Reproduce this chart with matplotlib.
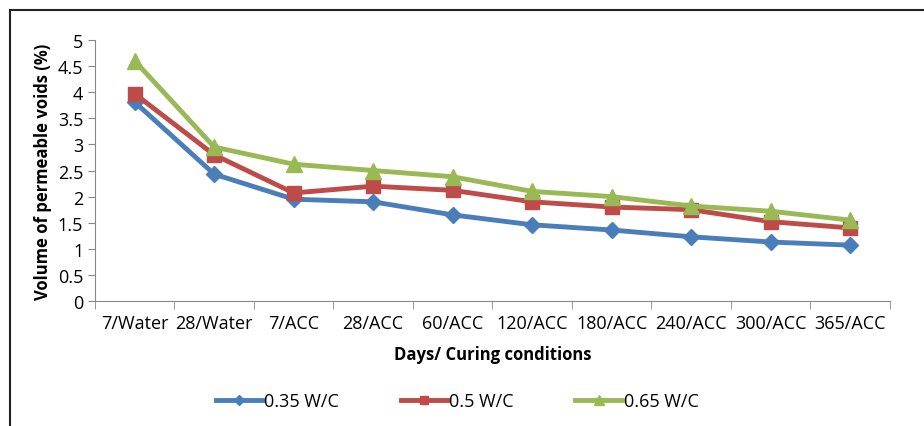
import numpy as np
import matplotlib
matplotlib.use("Agg")
import matplotlib.pyplot as plt
from matplotlib.lines import Line2D

plt.rcParams["font.family"] = ["Open Sans", "DejaVu Sans"]

categories = ["7/Water", "28/Water", "7/ACC", "28/ACC", "60/ACC", "120/ACC",
              "180/ACC", "240/ACC", "300/ACC", "365/ACC"]
wc_035 = [3.81, 2.43, 1.95, 1.90, 1.65, 1.46, 1.36, 1.23, 1.13, 1.07]
wc_050 = [3.97, 2.80, 2.07, 2.20, 2.12, 1.90, 1.80, 1.75, 1.52, 1.40]
wc_065 = [4.60, 2.95, 2.62, 2.50, 2.38, 2.10, 2.00, 1.82, 1.72, 1.55]

series = [
    ("0.35 W/C", wc_035, "#4a7ebb", "D", 8),
    ("0.5 W/C", wc_050, "#be4b48", "s", 10),
    ("0.65 W/C", wc_065, "#98b954", "^", 11),
]

fig = plt.figure(figsize=(9.24, 4.27), dpi=100)
ax = fig.add_axes([0.1028, 0.2927, 0.8602, 0.6113])

x = np.arange(len(categories))
for label, vals, color, marker, ms in series:
    ax.plot(x, vals, color=color, lw=3.5, marker=marker, markersize=ms,
            label=label, solid_joinstyle="round")

ax.set_xlim(-0.5, len(categories) - 0.5)
ax.set_ylim(0, 5)
ax.set_yticks(np.arange(0, 5.01, 0.5))
ax.set_yticklabels(["0", "0.5", "1", "1.5", "2", "2.5", "3", "3.5", "4", "4.5", "5"])
ax.set_xticks(x)
ax.set_xticklabels(categories)
ax.set_xticks(np.arange(-0.5, len(categories)), minor=True)
ax.tick_params(axis="x", which="major", length=0, labelsize=13, pad=9)
ax.tick_params(axis="x", which="minor", length=6, color="#888888")
ax.tick_params(axis="y", length=5, color="#888888", labelsize=13)

for side in ["top", "right"]:
    ax.spines[side].set_visible(False)
for side in ["left", "bottom"]:
    ax.spines[side].set_color("#888888")

ax.set_ylabel("Volume of permeable voids (%)", fontsize=12, fontweight="bold")
ax.set_xlabel("Days/ Curing conditions", fontsize=12, fontweight="bold", labelpad=10)

handles = [Line2D([], [], color=c, lw=3.5, marker=m, markersize=ms * 0.6, label=l)
           for l, _, c, m, ms in series]
fig.legend(handles=handles, loc="center", bbox_to_anchor=(0.495, 0.058), ncol=3,
           frameon=False, fontsize=13, handlelength=2.6, handletextpad=0.1,
           columnspacing=3.4)

# chart border (top and left edges visible in the reference)
fig.add_artist(Line2D([0.011, 0.011], [0.0, 0.974], color="#222222", lw=1.5,
                      transform=fig.transFigure))
fig.add_artist(Line2D([0.011, 1.0], [0.974, 0.974], color="#222222", lw=1.5,
                      transform=fig.transFigure))

fig.savefig("out.png", dpi=100)
